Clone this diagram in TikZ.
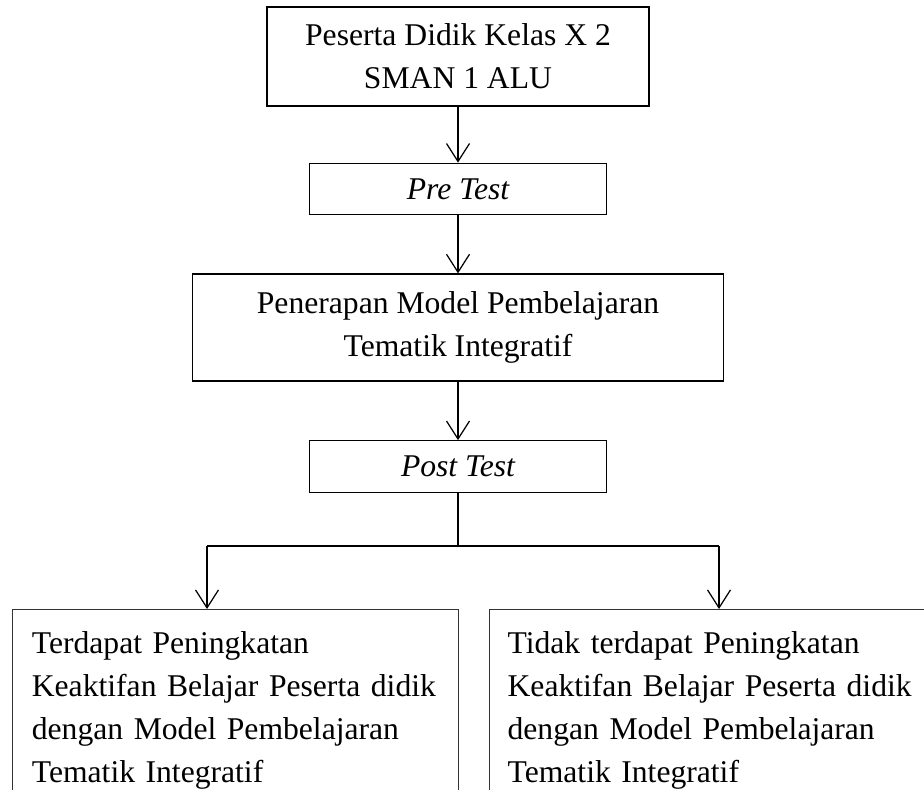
\documentclass[tikz,border=0pt]{standalone}
\usepackage{fontspec}
\setmainfont{Liberation Serif}
\usetikzlibrary{arrows.meta,positioning}

\begin{document}
\begin{tikzpicture}[
    font=\fontsize{18pt}{24.6pt}\selectfont,
    line width=0.7pt,
    box/.style={
        draw=black,
        inner sep=0pt,
        minimum width=7.64cm,
        minimum height=1.98cm,
        align=center
    },
    testbox/.style={
        draw=black,
        inner sep=0pt,
        minimum width=5.93cm,
        minimum height=1.03cm,
        font=\fontsize{18pt}{24.6pt}\selectfont\itshape
    },
    result/.style={
        draw=black!80,
        anchor=north west,
        inner xsep=0.385cm,
        inner ysep=0.43cm,
        align=left
    },
    arr/.style={-{Straight Barb[length=0.36cm,width=0.46cm]}}
]
\useasboundingbox (0,0) rectangle (18.48,-15.78);
\clip (0,0) rectangle (18.48,-15.78);

% main flow
\node[box] (peserta) at (9.16,-1.13)
{Peserta Didik Kelas X 2\\SMAN 1 ALU};

\node[testbox] (pretest) at (9.16,-3.78) {Pre Test};

\node[box, minimum width=10.62cm, minimum height=2.14cm] (penerapan) at (9.16,-6.55)
{Penerapan Model Pembelajaran\\Tematik Integratif};

\node[testbox] (posttest) at (9.16,-9.33) {Post Test};

\draw[arr] (peserta) -- (pretest);
\draw[arr] (pretest) -- (penerapan);
\draw[arr] (penerapan) -- (posttest);

% branching
\coordinate (junc) at (9.16,-10.92);
\coordinate (jl) at (4.14,-10.92);
\coordinate (jr) at (14.38,-10.92);

\node[result, text width=8.15cm] (naik) at (0.24,-12.18)
{Terdapat Peningkatan\\
Keaktifan Belajar Peserta didik\\
dengan Model Pembelajaran\\
Tematik Integratif};

\node[result, inner xsep=0.36cm, text width=8.9cm] (tidak) at (9.78,-12.18)
{Tidak terdapat Peningkatan\\
Keaktifan Belajar Peserta didik\\
dengan Model Pembelajaran\\
Tematik Integratif};

\draw (posttest.south) -- (junc);
\draw (jl) -- (jr);
\draw[arr] (jl) -- (jl |- naik.north);
\draw[arr] (jr) -- (jr |- tidak.north);

\end{tikzpicture}
\end{document}
